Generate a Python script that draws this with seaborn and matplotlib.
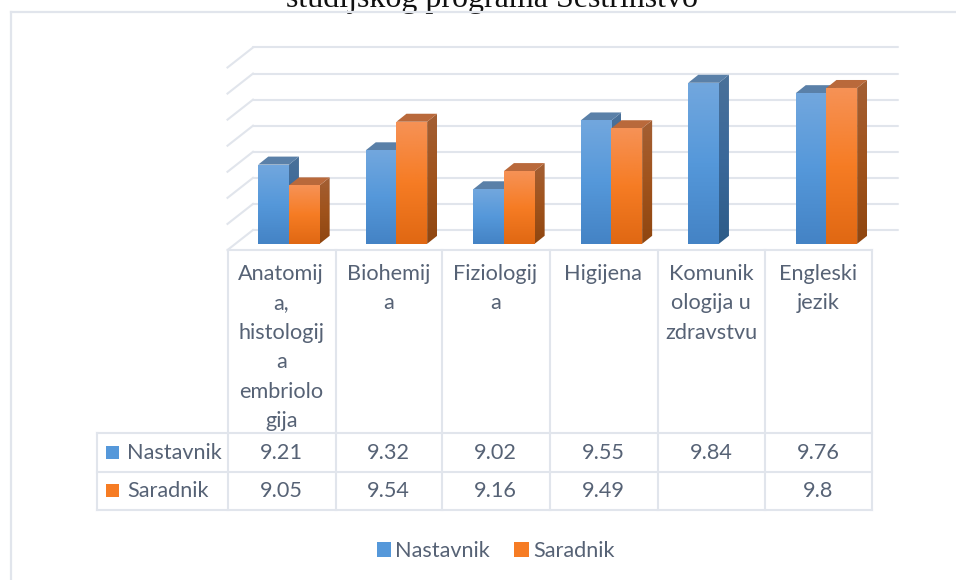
import numpy as np
import pandas as pd
import matplotlib
matplotlib.use("Agg")
import matplotlib.pyplot as plt
from matplotlib.colors import LinearSegmentedColormap
from matplotlib.patches import Polygon, Rectangle, Patch
import seaborn as sns

categories = ["Anatomija, histologija i embriologija", "Biohemija", "Fiziologija",
              "Higijena", "Komunikologija u zdravstvu", "Engleski jezik"]
header_labels = ["Anatomij\na,\nhistologij\na\nembriolo\ngija", "Biohemij\na", "Fiziologij\na",
                 "Higijena", "Komunik\nologija u\nzdravstvu", "Engleski\njezik"]
nastavnik = [9.21, 9.32, 9.02, 9.55, 9.84, 9.76]
saradnik = [9.05, 9.54, 9.16, 9.49, np.nan, 9.8]
nastavnik_text = ["9.21", "9.32", "9.02", "9.55", "9.84", "9.76"]
saradnik_text = ["9.05", "9.54", "9.16", "9.49", "", "9.8"]
series_names = ["Nastavnik", "Saradnik"]
grid_ticks = [8.6, 8.8, 9.0, 9.2, 9.4, 9.6, 9.8, 10.0]
title = "studijskog programa Sestrinstvo"

W, H = 956, 580
LINE = "#E1E5EC"
TEXT = "#566275"
FONT = "Lato"
FS = 15.6
front_cols = [["#72A7DE", "#5598DA", "#4483C5"], ["#F69256", "#F67C24", "#E06813"]]
side_cols = [["#4A7199", "#3A689A", "#2D5C88"], ["#A35F34", "#A0531C", "#8F4610"]]
top_cols = ["#5A80A8", "#B9693B"]

sns.set_theme(style="white")
plt.rcParams["font.family"] = [FONT, "DejaVu Sans"]


def rect(l, t, r, b):
    return [l / W, 1 - b / H, (r - l) / W, (b - t) / H]


fig = plt.figure(figsize=(W / 100, H / 100), dpi=100, facecolor="white")

# back wall: gridlines on the same value scale as the bars
wall = fig.add_axes(rect(253, 47.5, 898, 230), facecolor="none", zorder=1)
wall.set_ylim(grid_ticks[0], grid_ticks[-1])
wall.set_xlim(0, 1)
wall.set_yticks(grid_ticks)
wall.set_xticks([])
wall.tick_params(left=False, labelleft=False)
wall.grid(axis="y", color=LINE, linewidth=1.5)
for gl in wall.get_ygridlines():
    gl.set_clip_on(False)
sns.despine(ax=wall, left=True, bottom=True)

# bars
ax = fig.add_axes(rect(235.2, 62, 880.2, 243.8), facecolor="none", zorder=2)
df = pd.DataFrame({
    "predmet": categories * 2,
    "serija": [series_names[0]] * 6 + [series_names[1]] * 6,
    "ocjena": nastavnik + saradnik,
})
sns.barplot(data=df, x="predmet", y="ocjena", hue="serija", order=categories,
            hue_order=series_names, palette=[c[1] for c in front_cols], width=0.571,
            gap=0, legend=False, ax=ax, bottom=0, linewidth=0, errorbar=None)
XLIM, YLIM = (-0.5, 5.5), (8.6, 10.0)
ax.set_xlim(*XLIM)
ax.set_ylim(*YLIM)
ax.set_xticks([])
ax.set_yticks([])
ax.set_xlabel("")
ax.set_ylabel("")
for s in ax.spines.values():
    s.set_visible(False)

ddx = 10.0 / 107.5
ddy = 8.0 / 130.0


def shade(cols, extent, clip, z):
    cm = LinearSegmentedColormap.from_list("g", cols)
    im = ax.imshow(np.linspace(0, 1, 128)[:, None], cmap=cm, extent=extent, aspect="auto",
                   origin="upper", zorder=z, interpolation="bilinear")
    im.set_clip_path(clip)


for i, cont in enumerate(ax.containers):
    z = 3 + i
    for bar in cont:
        h = bar.get_height()
        if not np.isfinite(h):
            bar.set_visible(False)
            continue
        x0, w, y0 = bar.get_x(), bar.get_width(), bar.get_y()
        y1 = y0 + h
        x1 = x0 + w
        y0 = max(y0, YLIM[0])
        side = Polygon([(x1, y0), (x1 + ddx, y0 + ddy), (x1 + ddx, y1 + ddy), (x1, y1)],
                       closed=True, facecolor="none", edgecolor="none", transform=ax.transData, zorder=z)
        ax.add_patch(side)
        shade(side_cols[i], [x1, x1 + ddx, y0, y1 + ddy], side, z)
        top = Polygon([(x0, y1), (x0 + ddx, y1 + ddy), (x1 + ddx, y1 + ddy), (x1, y1)],
                      closed=True, facecolor=top_cols[i], edgecolor="none", zorder=z)
        ax.add_patch(top)
        front = Rectangle((x0, y0), w, y1 - y0, facecolor="none", edgecolor="none",
                          transform=ax.transData, zorder=z + 0.1)
        ax.add_patch(front)
        shade(front_cols[i], [x0, x1, y0, y1], front, z + 0.1)
        bar.set_visible(False)
ax.set_xlim(*XLIM)
ax.set_ylim(*YLIM)

# overlay in image pixels: frame, table, labels
ov = fig.add_axes([0, 0, 1, 1], facecolor="none", zorder=5)
ov.set_xlim(0, W)
ov.set_ylim(H, 0)
ov.axis("off")


def ln(xs, ys, lw=1.5):
    ov.plot(xs, ys, color=LINE, lw=lw, solid_capstyle="projecting", clip_on=True)


ov.text(492.5, 6.5, title, ha="center", va="baseline", family="Liberation Serif",
        fontsize=23, color="#111111", zorder=1)
ln([11, W], [12, 12], 1.6)
ln([11, 11], [12, H], 1.6)

col_x = [228, 336, 442.5, 550, 658, 765.5, 872]
top_y, head_y, r1_y, r2_y = 250, 433, 472, 510
table_left = 97
ln([col_x[0], col_x[-1]], [top_y, top_y])
ln([table_left, col_x[-1]], [head_y, head_y])
ln([table_left, col_x[-1]], [r1_y, r1_y])
ln([table_left, col_x[-1]], [r2_y, r2_y])
ln([table_left, table_left], [head_y, r2_y])
for x in col_x:
    ln([x, x], [top_y, r2_y])

# perspective strokes from the wall to the front plane
for g in range(8):
    y = 230 - g * (230 - 47.5) / 7
    ln([253, 227.5], [y, y + 20], 1.5)

for c, lab in enumerate(header_labels):
    cx = (col_x[c] + col_x[c + 1]) / 2 - 0.7
    for k, part in enumerate(lab.split("\n")):
        ov.text(cx, 274 + k * 29.4, part, ha="center", va="center", color=TEXT, fontsize=FS)
    ov.text(cx, 452.8, nastavnik_text[c], ha="center", va="center", color=TEXT, fontsize=FS)
    ov.text(cx, 490.8, saradnik_text[c], ha="center", va="center", color=TEXT, fontsize=FS)

for name, y, cols in zip(series_names, [452, 490], front_cols):
    ov.add_patch(Rectangle((106, y - 6.5), 13, 13, facecolor=cols[1], edgecolor="none"))
    ov.text(127, y + 0.8, name, ha="left", va="center", color=TEXT, fontsize=FS)

handles = [Patch(facecolor=c[1], edgecolor="none") for c in front_cols]
fig.legend(handles, series_names, loc="center", bbox_to_anchor=(495.5 / W, 1 - 551 / H), ncol=2,
           frameon=False, fontsize=FS, labelcolor=TEXT, handlelength=0.65, handleheight=0.65,
           handletextpad=0.2, columnspacing=1.14, borderpad=0)

fig.savefig("out.png", dpi=100, facecolor="white")
